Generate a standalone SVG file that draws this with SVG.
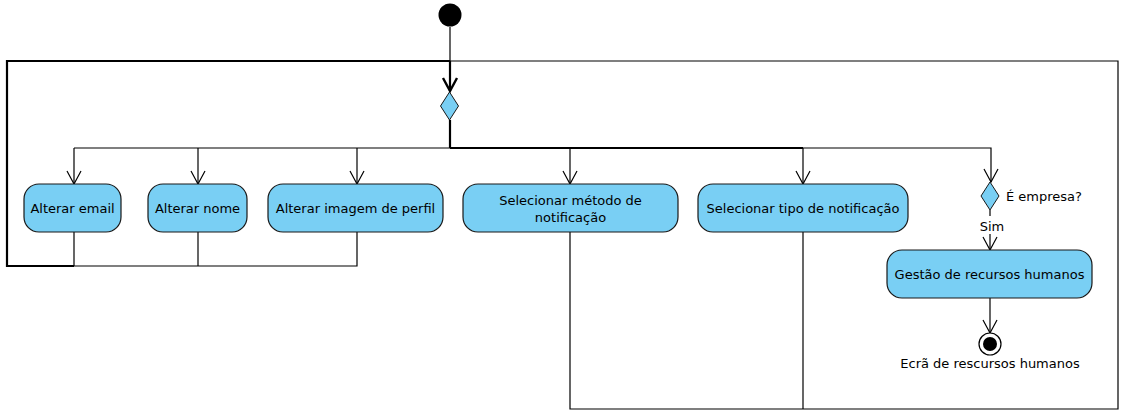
<svg xmlns="http://www.w3.org/2000/svg" width="1124" height="416" viewBox="0 0 1124 416">
<defs>
<style>
.act{fill:#79CFF4;stroke:#181818;stroke-width:1.2}
.t{font-family:"DejaVu Sans",sans-serif;font-size:13px;fill:#000;text-anchor:middle}
.tl{font-family:"DejaVu Sans",sans-serif;font-size:13px;fill:#000;text-anchor:start}
.c{fill:none;stroke:#000;stroke-width:1.2}
.c2{fill:none;stroke:#000;stroke-width:2.2}
.dia{fill:#79CFF4;stroke:#181818;stroke-width:1}
</style>
<marker id="arr" viewBox="-15 -9 17 18" refX="0" refY="0" markerWidth="17" markerHeight="18" markerUnits="userSpaceOnUse" orient="auto">
<path d="M-13,-7 L0,0 L-13,7" fill="none" stroke="#000" stroke-width="1.2"/>
</marker>
<marker id="arr2" viewBox="-15 -9 17 18" refX="0" refY="0" markerWidth="17" markerHeight="18" markerUnits="userSpaceOnUse" orient="auto">
<path d="M-13,-7 L0,0 L-13,7" fill="none" stroke="#000" stroke-width="2.4"/>
</marker>
</defs>
<rect width="1124" height="416" fill="#fff"/>
<g id="connectors">
<path class="c" d="M450,27 V61"/>
<path class="c2" d="M450,61 V91" marker-end="url(#arr2)"/>
<path class="c" d="M74,232 V266"/>
<path class="c" d="M198,232 V266"/>
<path class="c" d="M357,232 V266 H74"/>
<path class="c2" d="M74,266 H7 V61 H450"/>
<path class="c" d="M570,232 V409 H1118 V61 H450"/>
<path class="c" d="M803,232 V409"/>
<path class="c2" d="M450,120 V148"/>
<path class="c" d="M74,148 H450"/>
<path class="c2" d="M450,148 H803"/>
<path class="c" d="M803,148 H991 V182" marker-end="url(#arr)"/>
<path class="c" d="M74,148 V184" marker-end="url(#arr)"/>
<path class="c" d="M198,148 V184" marker-end="url(#arr)"/>
<path class="c" d="M357,148 V184" marker-end="url(#arr)"/>
<path class="c" d="M570,148 V184" marker-end="url(#arr)"/>
<path class="c" d="M803,148 V184" marker-end="url(#arr)"/>
<path class="c" d="M990,210 V216"/>
<path class="c" d="M990,234 V250" marker-end="url(#arr)"/>
<path class="c" d="M990,298 V333" marker-end="url(#arr)"/>
</g>
<g id="start"><circle cx="450" cy="15" r="11.5" fill="#000"/></g>
<g id="merge"><polygon class="dia" points="449.5,92 458.5,106 449.5,120 440.5,106"/></g>
<g id="alterar-email"><rect class="act" x="24" y="184" width="97" height="48" rx="15"/><text class="t" x="72.5" y="213">Alterar email</text></g>
<g id="alterar-nome"><rect class="act" x="148" y="184" width="99" height="48" rx="15"/><text class="t" x="197.5" y="213">Alterar nome</text></g>
<g id="alterar-imagem"><rect class="act" x="268" y="184" width="175" height="48" rx="15"/><text class="t" x="355.5" y="213">Alterar imagem de perfil</text></g>
<g id="selecionar-metodo"><rect class="act" x="463" y="184" width="215" height="48" rx="15"/><text class="t" x="570.5" y="205">Selecionar método de</text><text class="t" x="570.5" y="222">notificação</text></g>
<g id="selecionar-tipo"><rect class="act" x="698" y="184" width="210" height="48" rx="15"/><text class="t" x="803" y="213">Selecionar tipo de notificação</text></g>
<g id="empresa-decision"><polygon class="dia" points="990,182 999,196 990,210 981,196"/><text class="tl" x="1006" y="201">É empresa?</text><text class="t" x="992" y="231">Sim</text></g>
<g id="gestao"><rect class="act" x="887" y="250" width="205" height="48" rx="15"/><text class="t" x="989.5" y="279">Gestão de recursos humanos</text></g>
<g id="end"><circle cx="990" cy="344" r="11" fill="#fff" stroke="#000" stroke-width="1.2"/><circle cx="990" cy="344" r="7" fill="#000"/><text class="t" x="990" y="368">Ecrã de rescursos humanos</text></g>
</svg>
